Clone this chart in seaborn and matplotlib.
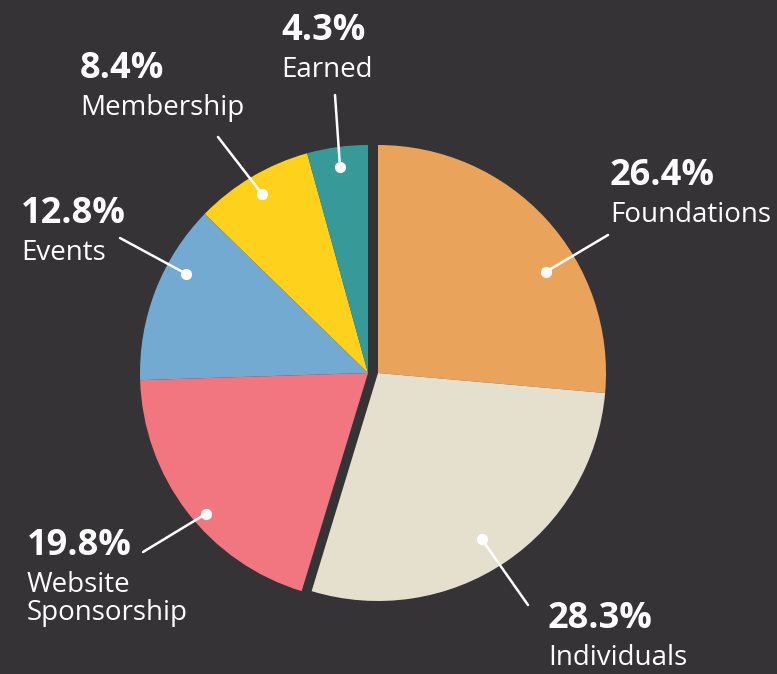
import numpy as np
import matplotlib.pyplot as plt
import seaborn as sns

# slices, clockwise from 12 o'clock
labels = ["Foundations", "Individuals", "Website\nSponsorship", "Events", "Membership", "Earned"]
values = [26.4, 28.3, 19.8, 12.8, 8.4, 4.3]
colors = ["#EAA35A", "#E5DFCE", "#F2767F", "#72AAD2", "#FDD11C", "#379A98"]

# layout in pixels: label x / percent baseline, leader line end, dot placement in wedge
label_pos = [(610, 185), (548, 628), (27, 555), (21, 223), (80, 78), (281, 40)]
line_end = [(608, 235), (528, 605), (143, 552), (120, 238), (218, 137), (335, 95)]
dot_frac = [0.62, 0.52, 0.45, 0.66, 0.5, 0.5]
dot_r = [0.86, 0.86, 0.94, 0.91, 0.91, 0.91]

W, H = 777, 674
bg = "#353335"

sns.set_theme(style="white")
plt.rcParams["font.family"] = ["Open Sans", "DejaVu Sans"]

fig = plt.figure(figsize=(W / 100, H / 100), dpi=100, facecolor=bg)
ax = fig.add_axes([0, 0, 1, 1])
ax.set_facecolor(bg)

center = (368, H - 373)
radius = 228
wedges, _ = ax.pie(values, colors=colors, startangle=90, counterclock=False,
                   center=center, radius=radius,
                   wedgeprops=dict(linewidth=0, antialiased=True))

# Foundations + Individuals pulled out to the right
for w in wedges[:2]:
    w.set_center((center[0] + 10, center[1]))

for i, w in enumerate(wedges):
    # counterclock=False -> theta2 is the start (clockwise) edge
    ang = np.deg2rad(w.theta2 - dot_frac[i] * (w.theta2 - w.theta1))
    cx, cy = w.center
    dx = cx + dot_r[i] * radius * np.cos(ang)
    dy = cy + dot_r[i] * radius * np.sin(ang)
    lx, ly = line_end[i]
    ax.plot([dx, lx], [dy, H - ly], color="white", lw=1.8, solid_capstyle="round")
    ax.scatter([dx], [dy], s=65, color="white", zorder=5, linewidths=0)

    tx, ty = label_pos[i]
    ax.text(tx, H - ty, f"{values[i]}%", color="white", fontsize=26, fontweight="bold",
            va="baseline", ha="left")
    for k, line in enumerate(labels[i].split("\n")):
        ax.text(tx, H - ty - 37 - 28 * k, line, color="white", fontsize=20,
                va="baseline", ha="left")

ax.set_xlim(0, W)
ax.set_ylim(0, H)
ax.set_aspect("equal")
ax.axis("off")

fig.savefig("out.png", dpi=100, facecolor=bg)
